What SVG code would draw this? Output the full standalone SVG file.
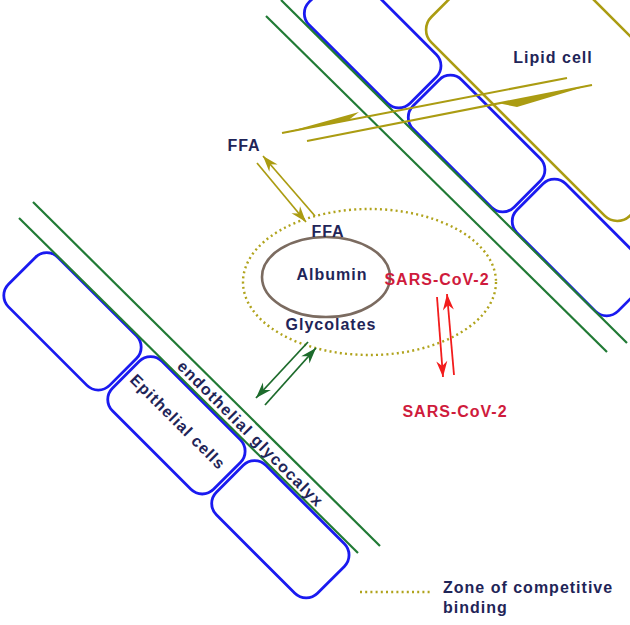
<svg xmlns="http://www.w3.org/2000/svg" width="630" height="625" viewBox="0 0 630 625">
<style>
.cell{fill:none;stroke:#1a1af0;stroke-width:2.8}
.gl{stroke:#217a35;stroke-width:2.2;fill:none}
.lip{fill:none;stroke:#ab9c12;stroke-width:2.6}
.ol{stroke:#ab9c12;stroke-width:2;fill:none}
.olf{fill:#ab9c12}
.ga{stroke:#1d6b2c;stroke-width:1.8;fill:none}
.ra{stroke:#f21c1c;stroke-width:1.8;fill:none}
.t{font-family:"Liberation Sans",Arial,sans-serif;font-weight:bold;font-size:16px;fill:#1f2558;letter-spacing:1px}
.r{fill:#cf1b3c}
.dot{fill:none;stroke:#b0a31c;stroke-width:2.4;stroke-dasharray:2 3.2}
</style>
<defs>
<marker id="mo" markerUnits="userSpaceOnUse" orient="auto" refX="0" refY="0" markerWidth="20" markerHeight="20" overflow="visible"><path d="M0,0 L-16,-5.5 L-11,0 L-16,5.5 Z" fill="#ab9c12"/></marker>
<marker id="mg" markerUnits="userSpaceOnUse" orient="auto" refX="0" refY="0" markerWidth="20" markerHeight="20" overflow="visible"><path d="M0,0 L-16,-5.5 L-11,0 L-16,5.5 Z" fill="#1d6b2c"/></marker>
<marker id="mr" markerUnits="userSpaceOnUse" orient="auto" refX="0" refY="0" markerWidth="20" markerHeight="20" overflow="visible"><path d="M0,0 L-16,-5.5 L-11,0 L-16,5.5 Z" fill="#f21c1c"/></marker>
</defs>
<rect width="630" height="625" fill="#fff"/>

<g id="lipid-cell"><rect class="lip" transform="rotate(45)" x="317" y="-420" width="281" height="145" rx="18"/></g>
<g id="right-cells">
<rect class="cell" transform="rotate(45)" x="220" y="-270" width="143" height="69" rx="16"/>
<rect class="cell" transform="rotate(45)" x="367" y="-270" width="143" height="69" rx="16"/>
<rect class="cell" transform="rotate(45)" x="514" y="-270" width="143" height="69" rx="16"/>
</g>
<g id="right-glycocalyx">
<line class="gl" x1="266" y1="16" x2="607" y2="352"/>
<line class="gl" x1="281" y1="0" x2="627" y2="343"/>
</g>
<g id="epithelial-cells">
<rect class="cell" transform="rotate(45)" x="207" y="141" width="143" height="70" rx="16"/>
<rect class="cell" transform="rotate(45)" x="354" y="141" width="143" height="70" rx="16"/>
<rect class="cell" transform="rotate(45)" x="501" y="141" width="143" height="70" rx="16"/>
<text class="t" transform="rotate(45)" x="424" y="178" text-anchor="middle">Epithelial cells</text>
</g>
<g id="endothelial-glycocalyx">
<line class="gl" x1="33" y1="202" x2="380" y2="546"/>
<line class="gl" x1="19" y1="218" x2="358" y2="553"/>
<text class="t" transform="rotate(45)" x="484" y="135" text-anchor="middle" style="letter-spacing:1.3px">endothelial glycocalyx</text>
</g>

<g id="zone"><ellipse class="dot" cx="369.5" cy="282" rx="126.5" ry="73"/></g>
<g id="albumin">
<ellipse cx="326" cy="277" rx="64" ry="40" fill="none" stroke="#7b6b60" stroke-width="2.6"/>
<text class="t" x="332" y="280" text-anchor="middle">Albumin</text>
</g>
<g id="ffa-bound"><text class="t" x="328" y="237" text-anchor="middle">FFA</text></g>
<g id="glycolates"><text class="t" x="331" y="330" text-anchor="middle">Glycolates</text></g>
<g id="sars-bound"><text class="t r" x="437" y="285" text-anchor="middle">SARS-CoV-2</text></g>
<g id="ffa-free"><text class="t" x="244" y="151" text-anchor="middle">FFA</text></g>
<g id="sars-free"><text class="t r" x="455" y="417" text-anchor="middle">SARS-CoV-2</text></g>
<g id="lipid-label"><text class="t" x="553" y="63" text-anchor="middle">Lipid cell</text></g>
<g id="legend">
<line class="dot" x1="360" y1="592" x2="432" y2="592"/>
<text class="t" x="443" y="593">Zone of competitive</text>
<text class="t" x="443" y="613">binding</text>
</g>

<g id="connectors">
<line class="ol" x1="567" y1="78" x2="282" y2="133"/>
<polygon class="olf" points="282,133.5 359,112 348,120.5"/>
<line class="ol" x1="307" y1="141" x2="592" y2="85"/>
<polygon class="olf" points="592,84.5 517,107 500,103.5"/>
<line class="ol" x1="315" y1="216" x2="263" y2="156" style="stroke-width:1.7" marker-end="url(#mo)"/>
<line class="ol" x1="257" y1="163" x2="306" y2="222" style="stroke-width:1.7" marker-end="url(#mo)"/>
<line class="ga" x1="308" y1="342" x2="256" y2="398" marker-end="url(#mg)"/>
<line class="ga" x1="265" y1="405" x2="316" y2="348" marker-end="url(#mg)"/>
<line class="ra" x1="437" y1="297" x2="443" y2="377" marker-end="url(#mr)"/>
<line class="ra" x1="454" y1="375" x2="447" y2="294" marker-end="url(#mr)"/>
</g>
</svg>
